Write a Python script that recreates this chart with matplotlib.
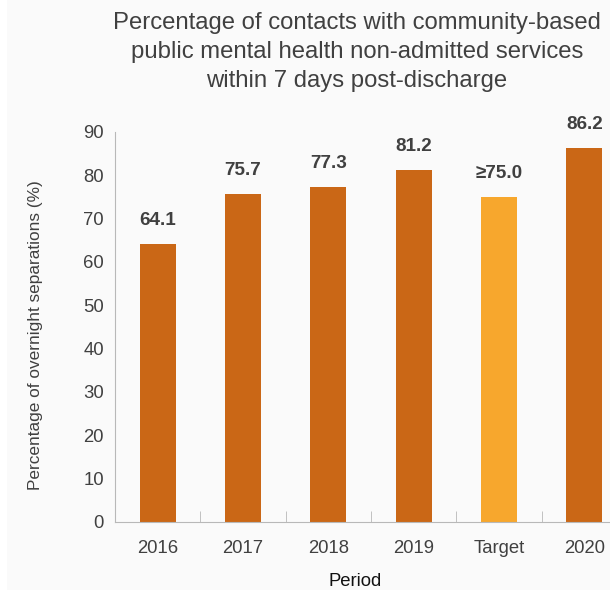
import matplotlib.pyplot as plt
import numpy as np
from matplotlib.patches import Rectangle

plt.rcParams['font.family'] = ['Liberation Sans', 'DejaVu Sans']

periods = ['2016', '2017', '2018', '2019', 'Target', '2020']
values = [64.1, 75.7, 77.3, 81.2, 75.0, 86.2]
labels = ['64.1', '75.7', '77.3', '81.2', '\u226575.0', '86.2']
colors = ['#CA6716', '#CA6716', '#CA6716', '#CA6716', '#F7A72D', '#CA6716']

text_col = '#404040'

fig = plt.figure(figsize=(6.1, 5.9), dpi=100, facecolor='#fafafa')
fig.patches.append(Rectangle((0, 0), 7 / 610, 1, transform=fig.transFigure,
                             facecolor='white', edgecolor='none', zorder=-1))
ax = fig.add_axes([115 / 610, 68 / 590, 512 / 610, 390 / 590])
ax.set_facecolor('#fafafa')

x = np.arange(len(periods))
ax.bar(x, values, width=0.42, color=colors, zorder=2)
for xi, v, lab in zip(x, values, labels):
    ax.annotate(lab, (xi, v), xytext=(0, 11), textcoords='offset points',
                ha='center', va='bottom', fontsize=13.6, fontweight='bold',
                color=text_col)

ax.set_xlim(-0.5, len(periods) - 0.5)
ax.set_ylim(0, 90)
ax.set_yticks(np.arange(0, 91, 10))
ax.set_xticks(x)
ax.set_xticklabels(periods)
ax.set_xticks(np.arange(0.5, len(periods) - 0.5, 1), minor=True)
ax.tick_params(axis='x', which='major', length=0, pad=13, labelsize=13.3, labelcolor=text_col)
ax.tick_params(axis='x', which='minor', direction='in', length=8, color='#b8b8b8')
ax.tick_params(axis='y', length=0, pad=8, labelsize=13.3, labelcolor=text_col)

for s in ['top', 'right']:
    ax.spines[s].set_visible(False)
for s in ['left', 'bottom']:
    ax.spines[s].set_color('#b8b8b8')

ax.set_ylabel('Percentage of overnight separations (%)', fontsize=12.4,
              color=text_col)
ax.yaxis.set_label_coords(-72 / 512, 0.48)

fig.text(355 / 610, 1 - 582 / 590, 'Period', ha='center', va='center',
         fontsize=13.3, color='#111111')

fig.text(357 / 610, 1 - 52 / 590,
         'Percentage of contacts with community-based\n'
         'public mental health non-admitted services\n'
         'within 7 days post-discharge',
         ha='center', va='center', fontsize=17.2, color=text_col, linespacing=1.42)

fig.savefig('out.png', dpi=100, facecolor=fig.get_facecolor())
